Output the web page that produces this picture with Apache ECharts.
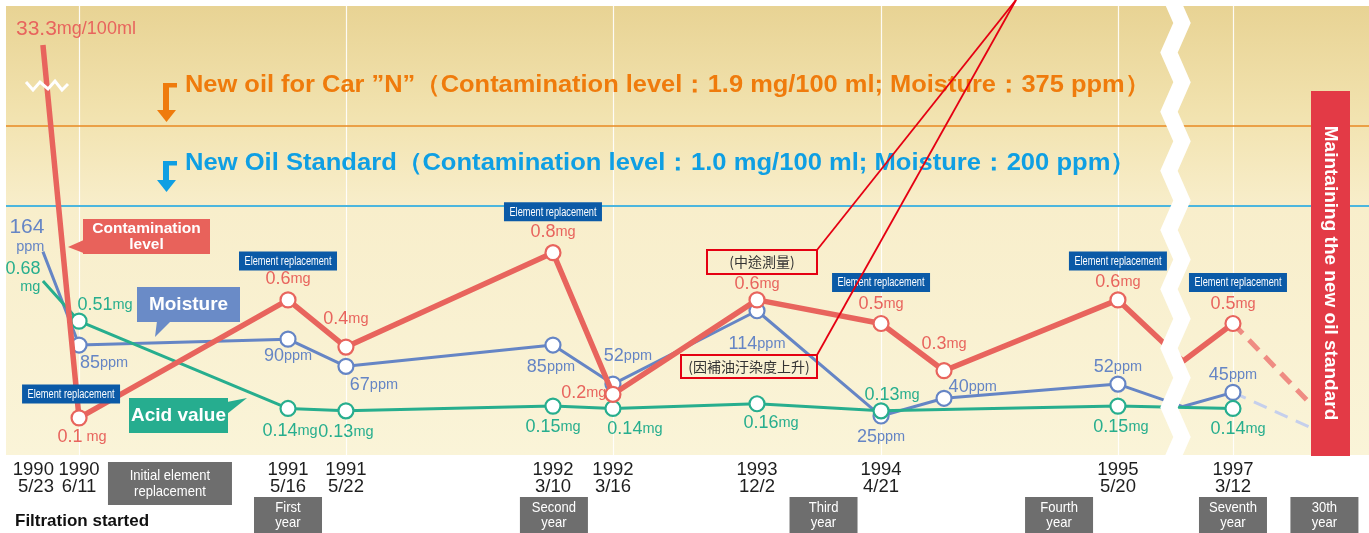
<!DOCTYPE html>
<html>
<head>
<meta charset="utf-8">
<script src="https://cdn.jsdelivr.net/npm/echarts@6/dist/echarts.min.js"></script>
<style>
  html, body { margin: 0; padding: 0; background: #fff; }
  #chart { width: 1369px; height: 533px; }
</style>
</head>
<body>
<div id="chart"></div>
<script>
  // ---- data ----
  const dateLabels = ['1990\n5/23', '1990\n6/11', '1991\n5/16', '1991\n5/22', '1992\n3/10', '1992\n3/16',
    '1993\n12/2', '1994\n4/21', '', '1995\n5/20', '', '1997\n3/12'];
  // schematic place on the timeline (0-100), the source is not drawn to time scale
  const timelinePos = [2.71, 5.36, 20.69, 24.94, 40.13, 44.53, 55.10, 64.20, 68.82, 81.58, 86.35, 90.02];
  const contamination = [33.3, 0.1, 0.6, 0.4, 0.8, 0.2, 0.6, 0.5, 0.3, 0.6, 0.34, 0.5]; // mg/100ml
  const moisture = [164, 85, 90, 67, 85, 52, 114, 25, 40, 52, 33, 45]; // ppm
  const acidValue = [0.68, 0.51, 0.14, 0.13, 0.15, 0.14, 0.16, 0.13, null, 0.15, null, 0.14]; // mg
  const noMarker = [0, 10]; // line start and the point hidden under the break

  // dashed outlook towards the 30th year
  const outlookPos = [90.02, 96.70];
  const outlookContamination = [0.5, 0.1];
  const outlookMoisture = [45, 10];

  const replacementAt = [1, 2, 4, 7, 9, 11];
  const gridAt = [1, 3, 5, 7, 9, 11];
  const milestones = ['Initial element\nreplacement', 'First\nyear', 'Second\nyear', 'Third\nyear',
    'Fourth\nyear', 'Seventh\nyear', '30th\nyear'];
  const milestonePos = [12.03, 20.69, 40.20, 59.98, 77.26, 90.02, 96.73];

  const newOilStandard = 1.0;   // mg/100ml
  const carOilLineAt = 1.34;    // car oil line, drawn schematically like the source

  // ---- look ----
  const FONT = "'Liberation Sans', Arial, sans-serif";
  const RED = '#e8645d', BLUE = '#6585c5', GREEN = '#27ae8e';
  const RED_CLIP = 1.68; // 33.3 goes off the top of the (broken) scale

  // label placements [position, dx, dy]
  const redPlace = [['top', 33, 8], ['bottom', 3, -4], ['top', 0, 3], ['top', 0, -4], ['top', 0, 3], ['left', 7, -1],
    ['top', 0, 8], ['top', 0, 4], ['top', 0, -3], ['top', 0, 6], null, ['top', 0, 4]];
  const bluePlace = [['left', 14, -16], ['bottom', 25, -6], ['bottom', 0, -7], ['bottom', 28, -5], ['bottom', -2, -2],
    ['top', 15, -4], ['bottom', 0, 10], ['bottom', 0, -3], ['right', -9, -11], ['top', 0, 7], null, ['top', 0, 6]];
  const greenPlace = [['left', 10, -4], ['top', 26, 7], ['bottom', 2, -1], ['bottom', 0, -2], ['bottom', 0, -3],
    ['bottom', 22, -3], ['bottom', 14, -4], ['top', 11, 8], null, ['bottom', 3, -3], null, ['bottom', 5, -3]];

  function richFor(color) {
    return {
      v: { fontSize: 18, lineHeight: 20, color: color, fontFamily: FONT },
      u: { fontSize: 14.5, lineHeight: 16, color: color, fontFamily: FONT },
      V: { fontSize: 21, lineHeight: 22, color: color, fontFamily: FONT },
      U: { fontSize: 18, lineHeight: 18, color: color, fontFamily: FONT }
    };
  }

  function labelText(kind, i, v) {
    if (kind === 'red' && i === 0) return '{V|' + v + '}{U|mg/100ml}';
    if (kind === 'red' && i === 1) return '{v|' + v + '}{u| mg}';
    if (kind === 'blue' && i === 0) return '{V|' + v + '}\n{u|ppm}';
    if (kind === 'green' && i === 0) return '{v|' + v + '}\n{u|mg}';
    return '{v|' + v + '}{u|' + (kind === 'blue' ? 'ppm' : 'mg') + '}';
  }

  function buildData(kind, vals, place, display) {
    const out = [];
    vals.forEach((v, i) => {
      if (v === null) return;
      const item = { value: [timelinePos[i], display ? display(v) : v] };
      // keep the symbol element (it carries the label) but make it invisible
      if (noMarker.indexOf(i) >= 0) item.itemStyle = { color: 'rgba(0,0,0,0)', borderColor: 'rgba(0,0,0,0)', borderWidth: 0 };
      const p = place[i];
      item.label = p ? {
        show: true, position: p[0], offset: [p[1], p[2]], formatter: labelText(kind, i, v)
      } : { show: false };
      out.push(item);
    });
    return out;
  }

  function lineSeries(name, kind, color, width, yAxisIndex, data, z) {
    return {
      name: name, type: 'line', xAxisIndex: 0, yAxisIndex: yAxisIndex, z: z,
      data: data, symbol: 'circle', symbolSize: 15, showSymbol: true,
      lineStyle: { color: color, width: width },
      itemStyle: { color: '#fff', borderColor: color, borderWidth: 2.2 },
      label: { show: true, rich: richFor(color) },
      emphasis: { disabled: true }
    };
  }

  const chart = echarts.init(document.getElementById('chart'));

  // first date sits tight against the second one, so it gets its own axis
  const labelled = timelinePos.filter((p, i) => i > 0 && dateLabels[i]);
  const dateFormatter = function (value) {
    const i = timelinePos.indexOf(value);
    return dateLabels[i] || '';
  };
  const dateLabelStyle = {
    margin: 6, color: '#1e1e1e', fontFamily: FONT, fontSize: 18.5, lineHeight: 17.5,
    showMinLabel: true, showMaxLabel: true, hideOverlap: false, formatter: dateFormatter
  };
  const plainAxis = {
    type: 'value', min: 0, max: 100, position: 'bottom',
    axisLine: { show: false }, axisTick: { show: false }, splitLine: { show: false }
  };

  const option = {
    animation: false,
    grid: {
      left: 6, right: 0, top: 6, bottom: 78, show: true, borderWidth: 0,
      backgroundColor: new echarts.graphic.LinearGradient(0, 0, 0, 1, [
        { offset: 0, color: '#e8d394' },
        { offset: 0.25, color: '#f2e3b0' },
        { offset: 0.45, color: '#f8eecb' },
        { offset: 1, color: '#faf4d8' }
      ])
    },
    xAxis: [
      Object.assign({}, plainAxis, { axisLabel: Object.assign({ customValues: labelled }, dateLabelStyle) }),
      Object.assign({}, plainAxis, {
        axisLabel: Object.assign({}, dateLabelStyle, { customValues: [timelinePos[0]], align: 'right', padding: [0, -11, 0, 0] })
      })
    ],
    yAxis: [
      { type: 'value', min: -0.0572, max: 1.8453, show: false },   // mg (contamination, acid value)
      { type: 'value', min: -7.95, max: 371.6, show: false }       // ppm (moisture)
    ],
    series: [
      lineSeries('Moisture', 'blue', BLUE, 3, 1, buildData('blue', moisture, bluePlace), 2),
      Object.assign(lineSeries('Acid value', 'green', GREEN, 3, 0, buildData('green', acidValue, greenPlace), 3), {
        connectNulls: true,
        markLine: {
          silent: true, symbol: 'none', z: 1, label: { show: false },
          data: gridAt.map(i => ({ xAxis: timelinePos[i], lineStyle: { color: 'rgba(255,255,255,0.9)', width: 1.2, type: 'solid' } }))
            .concat([
              { yAxis: carOilLineAt, lineStyle: { color: '#e98a22', width: 1.5, type: 'solid' } },
              { yAxis: newOilStandard, lineStyle: { color: '#4cb6de', width: 2, type: 'solid' } }
            ])
        }
      }),
      lineSeries('Contamination level', 'red', RED, 5.5, 0,
        buildData('red', contamination, redPlace, v => Math.min(v, RED_CLIP)), 4),
      {
        type: 'line', yAxisIndex: 0, z: 1, symbol: 'none', silent: true,
        data: outlookPos.map((x, i) => [x, outlookContamination[i]]),
        lineStyle: { color: '#ef8c83', width: 5, type: [14, 9] }
      },
      {
        type: 'line', yAxisIndex: 1, z: 1, symbol: 'none', silent: true,
        data: outlookPos.map((x, i) => [x, outlookMoisture[i]]),
        lineStyle: { color: '#c5cfec', width: 3, type: [14, 9] }
      }
    ]
  };

  chart.setOption(option);

  // ---- annotations ----
  const measureCtx = document.createElement('canvas').getContext('2d');
  function fitScale(text, font, width) {
    measureCtx.font = font;
    return width / measureCtx.measureText(text).width;
  }
  function rect(x, y, w, h, fill, z) {
    return { type: 'rect', z: z || 10, silent: true, shape: { x: x, y: y, width: w, height: h }, style: { fill: fill } };
  }
  function text(str, x, y, font, fill, opts) {
    return Object.assign({
      type: 'text', z: 11, silent: true, x: x, y: y,
      style: { text: str, font: font, fill: fill, textAlign: 'center', textVerticalAlign: 'middle' }
    }, opts || {});
  }
  function poly(points, fill, z) {
    return { type: 'polygon', z: z || 10, silent: true, shape: { points: points }, style: { fill: fill } };
  }
  function pline(points, stroke, width, z) {
    return { type: 'polyline', z: z || 12, silent: true, shape: { points: points },
      style: { stroke: stroke, lineWidth: width, fill: null, lineJoin: 'miter' } };
  }

  const g = [];

  // titles with arrows
  const orangeTitle = 'New oil for Car \u201dN\u201d\uff08Contamination level\uff1a1.9 mg/100 ml; Moisture\uff1a375 ppm\uff09';
  const blueTitle = 'New Oil Standard\uff08Contamination level\uff1a1.0 mg/100 ml; Moisture\uff1a200 ppm\uff09';
  const titleFont = 'bold 24px ' + FONT;
  g.push(text(orangeTitle, 185, 85, titleFont, '#ef7b0c',
    { scaleX: fitScale(orangeTitle, titleFont, 965), style: { text: orangeTitle, font: titleFont, fill: '#ef7b0c', textAlign: 'left', textVerticalAlign: 'middle' } }));
  g.push(text(blueTitle, 185, 163, titleFont, '#0f9fe3',
    { scaleX: fitScale(blueTitle, titleFont, 951), style: { text: blueTitle, font: titleFont, fill: '#0f9fe3', textAlign: 'left', textVerticalAlign: 'middle' } }));
  g.push(rect(163, 83, 14, 4.5, '#ef7b0c'), rect(163, 83, 6, 28, '#ef7b0c'),
    poly([[157, 110], [176, 110], [166.5, 122]], '#ef7b0c'));
  g.push(rect(163, 161, 14, 4.5, '#0f9fe3'), rect(163, 161, 6, 20, '#0f9fe3'),
    poly([[157, 180], [176, 180], [166.5, 192]], '#0f9fe3'));

  // small break mark on the contamination axis
  g.push(pline([[26, 82], [33, 90], [40, 82], [48, 89], [55, 81], [62, 90], [68, 84]], '#fff', 3, 12));

  // series callouts
  g.push(rect(83, 219, 127, 35, '#e8625b'), poly([[68, 247], [86, 239], [86, 254]], '#e8625b'),
    text('Contamination\nlevel', 146.5, 237, 'bold 15.5px ' + FONT, '#fff', {}));
  g.push(rect(137, 287, 103, 35, '#6a8bc7'), poly([[155, 337], [157, 321], [171, 321]], '#6a8bc7'),
    text('Moisture', 188.5, 304.5, 'bold 19px ' + FONT, '#fff'));
  g.push(rect(129, 398, 99, 35, '#26ad8f'), poly([[227, 402], [247, 398], [227, 414]], '#26ad8f'),
    text('Acid value', 178.5, 415.5, 'bold 19px ' + FONT, '#fff'));

  // chinese notes with red leader lines
  const cjk = "'Noto Sans CJK TC', 'Noto Sans CJK SC', sans-serif";
  g.push({ type: 'rect', z: 11, silent: true, shape: { x: 707, y: 250, width: 110, height: 24 },
    style: { fill: null, stroke: '#e50012', lineWidth: 2 } });
  g.push(text('(中途測量)', 762, 262, '14px ' + cjk, '#333'));
  g.push({ type: 'rect', z: 11, silent: true, shape: { x: 681, y: 355, width: 136, height: 23 },
    style: { fill: null, stroke: '#e50012', lineWidth: 2 } });
  g.push(text('(因補油汙染度上升)', 749, 366.5, '14px ' + cjk, '#333'));
  g.push(pline([[817, 250], [1016, 0]], '#e50012', 1.8, 13), pline([[817, 355], [1016, 0]], '#e50012', 1.8, 13));

  // element replacement tags, placed from the contamination points
  const tagOffset = [[-8, -24], [0, -39], [0, -41], [0, -41], [0, -39], [5, -41]];
  const tagFont = '12px ' + FONT;
  const tagScale = fitScale('Element replacement', tagFont, 87);
  replacementAt.forEach((i, k) => {
    const p = chart.convertToPixel({ xAxisIndex: 0, yAxisIndex: 0 }, [timelinePos[i], contamination[i]]);
    const cx = p[0] + tagOffset[k][0], cy = p[1] + tagOffset[k][1];
    g.push(rect(cx - 49, cy - 9.5, 98, 19, '#0b5aa7', 10));
    g.push(text('Element replacement', cx, cy + 0.5, tagFont, '#fff', { scaleX: tagScale }));
  });

  // milestone boxes under the dates
  const msFont = '14.5px ' + FONT;
  milestones.forEach((m, k) => {
    const cx = chart.convertToPixel({ xAxisIndex: 0 }, milestonePos[k]);
    if (k === 0) {
      g.push(rect(cx - 62, 462, 124, 43, '#6e6e6e'));
      g.push(text(m, cx, 484, msFont, '#fff', { scaleX: 0.9, style: { text: m, font: msFont, fill: '#fff', textAlign: 'center', textVerticalAlign: 'middle', lineHeight: 16 } }));
    } else {
      g.push(rect(cx - 34, 497, 68, 40, '#6e6e6e'));
      g.push(text(m, cx, 515, msFont, '#fff', { scaleX: 0.9, style: { text: m, font: msFont, fill: '#fff', textAlign: 'center', textVerticalAlign: 'middle', lineHeight: 15 } }));
    }
  });
  g.push(text('Filtration started', 15, 521, 'bold 17px ' + FONT, '#111',
    { style: { text: 'Filtration started', font: 'bold 17px ' + FONT, fill: '#111', textAlign: 'left', textVerticalAlign: 'middle' } }));

  // time-axis break
  const zig = [];
  for (let i = -1; i <= 15; i++) zig.push([i % 2 === 0 ? 1182 : 1169, 23 + 29.57 * i]);
  g.push(pline(zig, '#fff', 16, 30));

  // right banner
  g.push(rect(1311, 91, 39, 365, '#e33a46', 30));
  g.push(text('Maintaining the new oil standard', 1330.5, 273, 'bold 19px ' + FONT, '#fff',
    { z: 31, rotation: -Math.PI / 2 }));

  chart.setOption({ graphic: g });
</script>
</body>
</html>
